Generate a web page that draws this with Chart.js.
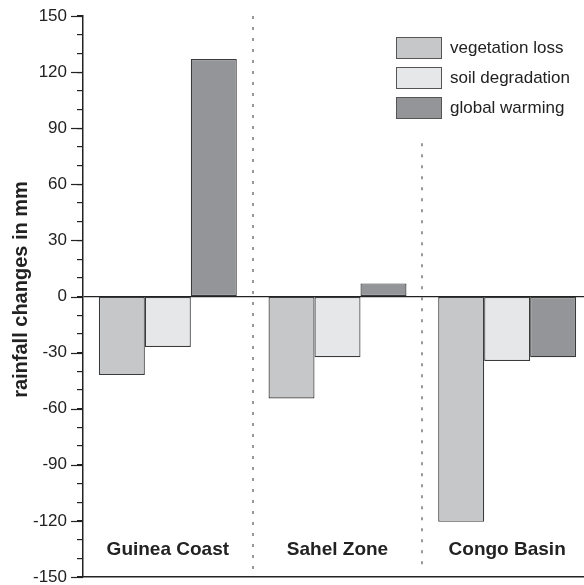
<!DOCTYPE html>
<html>
<head>
<meta charset="utf-8">
<title>Rainfall changes</title>
<script src="https://cdn.jsdelivr.net/npm/chart.js@4.4.1/dist/chart.umd.min.js"></script>
<style>
  body { margin: 0; background: #fff; overflow: hidden; }
  #wrap { position: relative; width: 584px; height: 585px; overflow: hidden; }
  #legend {
    position: absolute; left: 396px; top: 33px;
    font-family: "Liberation Sans", Arial, sans-serif; font-size: 17px; color: #222;
  }
  .item { display: flex; align-items: center; height: 30px; }
  .swatch { width: 44px; height: 20px; border: 1.5px solid #555; margin-right: 8px; }
</style>
</head>
<body>
<div id="wrap">
  <canvas id="chart" width="592" height="585"></canvas>
  <div id="legend"></div>
</div>
<script>
// --- DATA ---
const categories = ["Guinea Coast", "Sahel Zone", "Congo Basin"];
const seriesNames = ["vegetation loss", "soil degradation", "global warming"];
const vegetationLoss = [-42, -54.5, -120.5];
const soilDegradation = [-27, -32.5, -34.5];
const globalWarming = [127, 7, -32.5];
const seriesColors = ["#c6c7c9", "#e6e7e8", "#939598"];
const yTitle = "rainfall changes in mm";

// y range and tick steps
const yMin = -150;
const yMax = 150;
const minorStep = 10;
const labelStep = 30;

// divider lines between regions (top value of each one)
const dividerTops = [150, 82];
const dividerBottom = -146.5;

const FONT = '"Liberation Sans", Arial, sans-serif';

// --- LEGEND (html) ---
const legendEl = document.getElementById("legend");
seriesNames.forEach((name, i) => {
    const row = document.createElement("div");
    row.className = "item";
    row.innerHTML = `<span class="swatch" style="background:${seriesColors[i]}"></span><span>${name}</span>`;
    legendEl.appendChild(row);
});

// --- PLUGINS ---
const dividers = {
    id: "dividers",
    beforeDatasetsDraw(chart) {
        const { ctx, scales: { x, y } } = chart;
        ctx.save();
        ctx.strokeStyle = "#777";
        ctx.lineWidth = 1.5;
        ctx.setLineDash([3, 8]);
        for (let i = 1; i < categories.length; i++) {
            const px = Math.round((x.getPixelForValue(i - 1) + x.getPixelForValue(i)) / 2);
            ctx.beginPath();
            ctx.moveTo(px, y.getPixelForValue(dividerTops[i - 1]));
            ctx.lineTo(px, y.getPixelForValue(dividerBottom));
            ctx.stroke();
        }
        ctx.restore();
    }
};

const extras = {
    id: "extras",
    afterDraw(chart) {
        const { ctx, chartArea, scales: { x, y } } = chart;
        ctx.save();
        // longer marks for labelled ticks
        ctx.strokeStyle = "#222";
        ctx.lineWidth = 1.2;
        for (let v = yMin; v <= yMax; v += labelStep) {
            const py = Math.round(y.getPixelForValue(v)) + 0.5;
            ctx.beginPath();
            ctx.moveTo(chartArea.left - 12, py);
            ctx.lineTo(chartArea.left, py);
            ctx.stroke();
        }
        // region names inside the plot
        ctx.fillStyle = "#222";
        ctx.font = "bold 19px " + FONT;
        ctx.textAlign = "center";
        ctx.textBaseline = "middle";
        categories.forEach((c, i) => {
            ctx.fillText(c, x.getPixelForValue(i), chartArea.bottom - 27);
        });
        // y axis title, sits a bit above the middle like the original
        ctx.font = "bold 20px " + FONT;
        ctx.translate(21, (chartArea.top + chartArea.bottom) / 2 - 7);
        ctx.rotate(-Math.PI / 2);
        ctx.fillText(yTitle, 0, 0);
        ctx.restore();
    }
};

// --- CHART ---
const ctx = document.getElementById("chart").getContext("2d");
const datasetValues = [vegetationLoss, soilDegradation, globalWarming];

new Chart(ctx, {
    type: "bar",
    data: {
        labels: categories,
        datasets: datasetValues.map((vals, i) => ({
            label: seriesNames[i],
            data: vals,
            backgroundColor: seriesColors[i],
            borderColor: "#3a3a3a",
            borderWidth: 1.2,
            borderSkipped: false,
            barPercentage: 1,
            categoryPercentage: 0.813
        }))
    },
    options: {
        responsive: false,
        animation: false,
        layout: { padding: { top: 16, right: 0, bottom: 8, left: 0 } },
        plugins: {
            legend: { display: false },
            tooltip: { enabled: false }
        },
        scales: {
            x: {
                offset: true,
                grid: { display: false, drawTicks: false },
                ticks: { display: false },
                border: { color: "#222", width: 1.5 }
            },
            y: {
                min: yMin,
                max: yMax,
                afterFit: (scale) => {
                    scale.width = 83;
                    scale.paddingTop = 0;
                    scale.paddingBottom = 0;
                },
                ticks: {
                    stepSize: minorStep,
                    autoSkip: false,
                    padding: 10,
                    color: "#222",
                    font: { family: FONT, size: 17 },
                    callback: (v) => (v % labelStep === 0 ? v : "")
                },
                grid: {
                    drawOnChartArea: true,
                    color: (c) => (c.tick && c.tick.value === 0 ? "#222" : "rgba(0,0,0,0)"),
                    lineWidth: 1.2,
                    tickLength: 6,
                    tickColor: "#222",
                    tickWidth: 1.2
                },
                border: { color: "#222", width: 1.5 }
            }
        }
    },
    plugins: [dividers, extras]
});
</script>
</body>
</html>
